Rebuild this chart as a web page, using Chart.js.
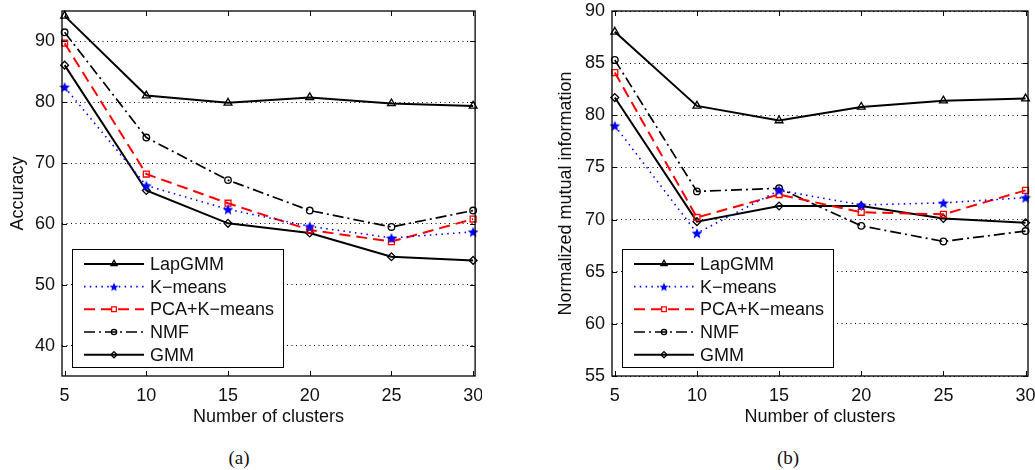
<!DOCTYPE html>
<html>
<head>
<meta charset="utf-8">
<script src="https://cdn.jsdelivr.net/npm/chart.js"></script>
<style>
  body { margin: 0; background: #fff; width: 1035px; height: 470px; position: relative; overflow: hidden; }
  canvas { position: absolute; top: 0; }
  #accChart { left: 0; }
  #nmiChart { left: 540px; }
  .caption { position: absolute; top: 447px; width: 60px; text-align: center;
             font-family: "Liberation Serif", serif; font-size: 19px; color: #111; }
</style>
</head>
<body>
<canvas id="accChart" width="482" height="430"></canvas>
<canvas id="nmiChart" width="495" height="430"></canvas>
<div class="caption" style="left:209px">(a)</div>
<div class="caption" style="left:758px">(b)</div>
<script>
// number of clusters (x axis)
const clusters = [5, 10, 15, 20, 25, 30];
const xTicks = [5, 10, 15, 20, 25, 30];

const methods = ['LapGMM', 'K\u2212means', 'PCA+K\u2212means', 'NMF', 'GMM'];

// (a) accuracy
const accLapGMM = [94.2, 81.1, 79.9, 80.8, 79.8, 79.4];
const accKmeans = [82.5, 66.3, 62.4, 59.6, 57.7, 58.7];
const accPcaKmeans = [89.7, 68.2, 63.4, 59.0, 57.1, 60.8];
const accNMF = [91.5, 74.2, 67.2, 62.2, 59.5, 62.2];
const accGMM = [86.1, 65.5, 60.1, 58.5, 54.6, 54.0];
const accTicks = [40, 50, 60, 70, 80, 90];

// (b) normalized mutual information
const nmiLapGMM = [88.0, 80.9, 79.5, 80.8, 81.4, 81.6];
const nmiKmeans = [79.0, 68.7, 72.8, 71.4, 71.6, 72.1];
const nmiPcaKmeans = [84.1, 70.2, 72.4, 70.7, 70.5, 72.8];
const nmiNMF = [85.3, 72.7, 73.0, 69.4, 67.9, 68.9];
const nmiGMM = [81.7, 69.8, 71.3, 71.3, 70.1, 69.7];
const nmiTicks = [55, 60, 65, 70, 75, 80, 85, 90];

const font = { family: '"Liberation Sans", Arial, sans-serif', size: 18 };
const textColor = '#111';

// filled five-point star used as a point style
function starMarker(color, r) {
  const c = document.createElement('canvas');
  const s = Math.ceil(r * 2 + 2);
  c.width = s; c.height = s;
  const g = c.getContext('2d');
  g.beginPath();
  for (let i = 0; i < 10; i++) {
    const rr = i % 2 ? r * 0.45 : r;
    const a = -Math.PI / 2 + i * Math.PI / 5;
    g.lineTo(s / 2 + rr * Math.cos(a), s / 2 + 0.6 + rr * Math.sin(a));
  }
  g.closePath();
  g.fillStyle = color;
  g.fill();
  return c;
}

const styles = [
  { color: '#000', dash: [], width: 2, point: 'triangle', radius: 4.5 },
  { color: '#0000ff', dash: [1.5, 4.3], width: 1.6, point: starMarker('#0000ff', 5.6), radius: 5.6 },
  { color: '#ff0000', dash: [11, 6], width: 2, point: 'rect', radius: 4.2 },
  { color: '#000', dash: [11, 4, 2, 4], width: 1.7, point: 'circle', radius: 3.3 },
  { color: '#000', dash: [], width: 2, point: 'rectRot', radius: 3.9 }
];

function makeDatasets(series) {
  return series.map((vals, i) => ({
    label: methods[i],
    data: clusters.map((x, j) => ({ x: x, y: vals[j] })),
    borderColor: styles[i].color,
    borderWidth: styles[i].width,
    borderDash: styles[i].dash,
    pointStyle: styles[i].point,
    pointRadius: styles[i].radius,
    pointBorderColor: styles[i].color,
    pointBackgroundColor: 'rgba(0,0,0,0)',
    pointBorderWidth: 1.3,
    tension: 0,
    fill: false,
    clip: false
  }));
}

const legendStar = starMarker('#0000ff', 4.6);

// box, inward ticks and the legend box in the lower left corner
const framePlugin = {
  id: 'frame',
  afterDraw(chart) {
    const { ctx, chartArea: a, scales } = chart;
    ctx.save();
    ctx.setLineDash([]);
    ctx.strokeStyle = '#000';
    ctx.lineWidth = 1.3;
    ctx.strokeRect(a.left, a.top, a.right - a.left, a.bottom - a.top);

    ctx.lineWidth = 1;
    ctx.beginPath();
    scales.x.ticks.forEach(t => {
      const x = Math.round(scales.x.getPixelForValue(t.value)) + 0.5;
      ctx.moveTo(x, a.bottom); ctx.lineTo(x, a.bottom - 5);
      ctx.moveTo(x, a.top); ctx.lineTo(x, a.top + 5);
    });
    scales.y.ticks.forEach(t => {
      const y = Math.round(scales.y.getPixelForValue(t.value)) + 0.5;
      ctx.moveTo(a.left, y); ctx.lineTo(a.left + 5, y);
      ctx.moveTo(a.right, y); ctx.lineTo(a.right - 5, y);
    });
    ctx.stroke();

    const bw = 211, bh = 118;
    const bx = Math.round(a.left + 10) + 0.5;
    const by = Math.round(a.bottom - 9.5 - bh) + 0.5;
    ctx.fillStyle = '#fff';
    ctx.fillRect(bx, by, bw, bh);
    ctx.strokeStyle = '#000';
    ctx.lineWidth = 1;
    ctx.strokeRect(bx, by, bw, bh);

    ctx.font = '18px ' + font.family;
    ctx.textBaseline = 'middle';
    ctx.textAlign = 'left';
    chart.data.datasets.forEach((ds, i) => {
      const y = by + 14.4 + i * 22.7;
      ctx.setLineDash(ds.borderDash);
      ctx.lineWidth = ds.borderWidth;
      ctx.strokeStyle = ds.borderColor;
      ctx.beginPath();
      ctx.moveTo(a.left + 22, y);
      ctx.lineTo(a.left + 82, y);
      ctx.stroke();
      // legend markers are a bit smaller than the ones on the lines
      ctx.setLineDash([]);
      ctx.lineWidth = ds.pointBorderWidth;
      ctx.fillStyle = ds.pointBackgroundColor;
      const isImg = typeof ds.pointStyle !== 'string';
      Chart.helpers.drawPoint(ctx, {
        pointStyle: isImg ? legendStar : ds.pointStyle,
        radius: ds.pointRadius * 0.8,
        borderWidth: ds.pointBorderWidth, rotation: 0
      }, a.left + 52, y);
      ctx.fillStyle = textColor;
      ctx.fillText(ds.label, a.left + 88, y + 1);
    });
    ctx.restore();
  }
};

function makeChart(id, series, yMin, yMax, yTicks, xMin, xMax, yWidth, yTitle, titlePad, padRight) {
  return new Chart(document.getElementById(id), {
    type: 'line',
    data: { datasets: makeDatasets(series) },
    options: {
      responsive: false,
      animation: false,
      events: [],
      layout: { padding: { top: 11, right: padRight, left: 0, bottom: 0 } },
      plugins: { legend: { display: false }, tooltip: { enabled: false } },
      scales: {
        x: {
          type: 'linear', min: xMin, max: xMax,
          afterBuildTicks: s => { s.ticks = xTicks.map(v => ({ value: v })); },
          afterFit: s => { s.height = 54; s.paddingLeft = 0; s.paddingRight = 0; },
          grid: { display: false, drawTicks: false },
          border: { display: false },
          ticks: { color: textColor, font: font, padding: 9, maxRotation: 0, autoSkip: false },
          title: { display: true, text: 'Number of clusters', color: textColor, font: font,
                   padding: { top: 0, bottom: 2 } }
        },
        y: {
          type: 'linear', min: yMin, max: yMax,
          afterBuildTicks: s => { s.ticks = yTicks.map(v => ({ value: v })); },
          afterFit: s => { s.width = yWidth; s.paddingTop = 0; s.paddingBottom = 0; },
          grid: { color: '#000', lineWidth: 1, drawTicks: false },
          border: { display: false, dash: [1, 3.5] },
          ticks: { color: textColor, font: font, padding: 7 },
          title: { display: true, text: yTitle, color: textColor, font: font,
                   padding: { top: titlePad, bottom: 0 } }
        }
      }
    },
    plugins: [framePlugin]
  });
}

makeChart('accChart', [accLapGMM, accKmeans, accPcaKmeans, accNMF, accGMM],
  35, 95, accTicks, 4.84, 30.12, 62, 'Accuracy', 7, 5);
makeChart('nmiChart', [nmiLapGMM, nmiKmeans, nmiPcaKmeans, nmiNMF, nmiGMM],
  55, 90, nmiTicks, 4.83, 30.15, 72, 'Normalized mutual information', 15, 7);
</script>
</body>
</html>
